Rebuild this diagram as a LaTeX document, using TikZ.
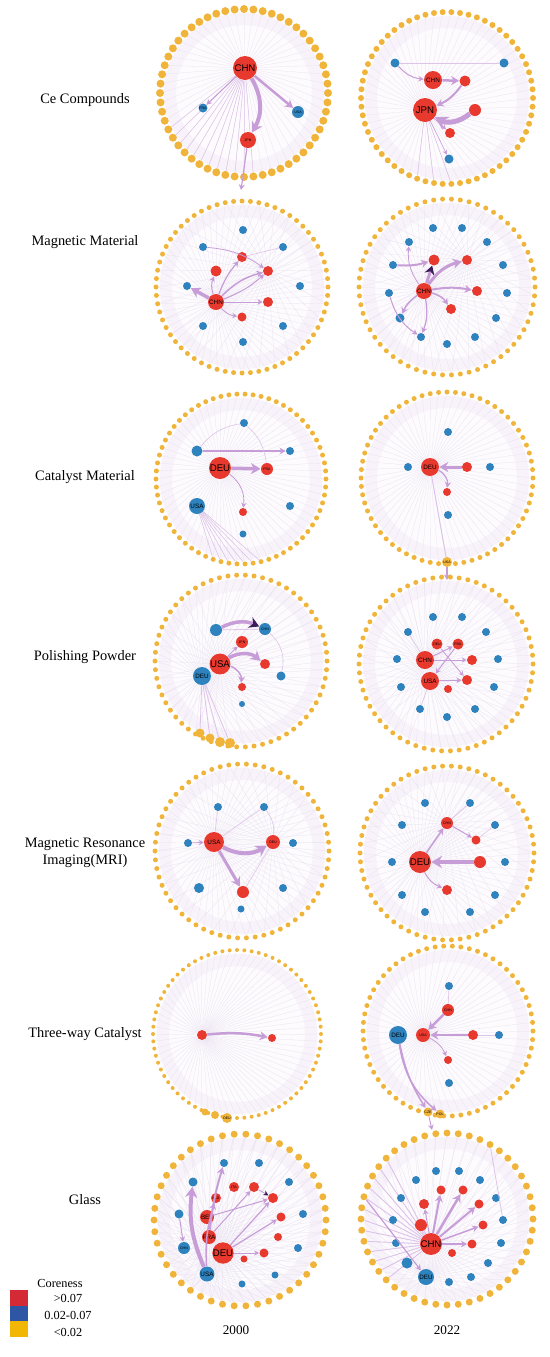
\documentclass[tikz,border=0pt]{standalone}
\usepackage{fontspec}
\setmainfont{Liberation Serif}
\setsansfont{Liberation Sans}
\usetikzlibrary{calc, arrows.meta, backgrounds}

\definecolor{corered}{HTML}{E8392F}
\definecolor{coreblue}{HTML}{2E82BE}
\definecolor{coreyel}{HTML}{F0B43A}
\definecolor{keyred}{HTML}{D42A35}
\definecolor{keyblue}{HTML}{2F55A5}
\definecolor{keyyel}{HTML}{F2B705}
\definecolor{flowpurple}{HTML}{C79DD8}
\definecolor{faintpurple}{HTML}{E6DDEF}
\definecolor{darkplum}{HTML}{3B1D5A}

% ring of low-coreness countries: centre, prefix, dots, radius, dot size
\newcommand{\corering}[5]{%
  \begin{scope}[on background layer]
    \fill[haze] (#1) circle[radius={(#4-3)*0.2mm}];
    \draw[hazering] (#1) circle[radius={(#4-10)*0.2mm}];
  \end{scope}
  \foreach \k in {1,...,#3}
    \node[lo=#5] (#2\k) at ($(#1)+({\k/#3*360}:#4)$) {};
}

\begin{document}
\begin{tikzpicture}[x=0.02cm, y=-0.02cm,
  hi/.style={circle, fill=corered, inner sep=0pt, minimum size=#1*0.2mm, font=\sffamily\fontsize{2}{2}\selectfont},
  mid/.style={circle, fill=coreblue, inner sep=0pt, minimum size=#1*0.2mm, font=\sffamily\fontsize{2}{2}\selectfont},
  lo/.style={circle, fill=coreyel, inner sep=0pt, minimum size=#1*0.2mm, font=\sffamily\fontsize{2}{2}\selectfont},
  bigtag/.style={font=\sffamily\fontsize{5.5}{5.5}\selectfont},
  medtag/.style={font=\sffamily\fontsize{3.6}{3.6}\selectfont},
  flow/.style={draw=flowpurple, line width=#1*0.2mm, -{Stealth[length=2pt 1.8, width=2pt 2.2]}},
  pointed/.style={-{Stealth[length=2pt 1.8, width=2pt 2.2, color=darkplum]}},
  link/.style={draw=flowpurple!60, line width=#1*0.2mm},
  faint/.style={draw=faintpurple, line width=0.12pt},
  haze/.style={fill=white!96!flowpurple},
  hazering/.style={draw=white!88!flowpurple, line width=2.4mm},
  rowlabel/.style={font=\fontsize{8.2}{9.6}\selectfont, align=center},
  keybox/.style={minimum width=18*0.2mm, minimum height=15.6*0.2mm, inner sep=0pt},
  keytext/.style={font=\fontsize{7}{8}\selectfont},
]
\useasboundingbox (0,0) rectangle (550,1357);

% row labels
\node[rowlabel] (lbl-ce) at (85,100) {Ce Compounds};
\node[rowlabel] (lbl-mm) at (85,242) {Magnetic Material};
\node[rowlabel] (lbl-ca) at (85,477) {Catalyst Material};
\node[rowlabel] (lbl-pp) at (85,657) {Polishing Powder};
\node[rowlabel] (lbl-mr) at (85,853) {Magnetic Resonance\\Imaging(MRI)};
\node[rowlabel] (lbl-tw) at (85,1034) {Three-way Catalyst};
\node[rowlabel] (lbl-gl) at (85,1200) {Glass};

% ---- Ce Compounds, 2000
\coordinate (ceA) at (244,93);
\corering{ceA}{ceA-r}{56}{84}{8}
\node[hi=24, bigtag] (ceA-chn) at (245,68) {CHN};
\node[mid=9] (ceA-fra) at (203,108) {FRA};
\node[mid=12] (ceA-usa) at (298,112) {USA};
\node[hi=16] (ceA-jpn) at (248,140) {JPN};
\coordinate (ceA-out) at (241,190);
\begin{scope}[on background layer]
  \foreach \k in {1,...,56} \draw[faint] (ceA-chn) -- (ceA-r\k);
  \foreach \k in {13,...,24} \draw[link=0.5] (ceA-chn) -- (ceA-r\k);
\end{scope}
\draw[flow=4] (ceA-chn) to[bend left=30] (ceA-jpn);
\draw[flow=2.5] (ceA-chn) -- (ceA-usa);
\draw[flow=1] (ceA-chn) -- (ceA-fra);
\draw[flow=1.2] (ceA-jpn) -- (ceA-out);

% ---- Ce Compounds, 2022
\coordinate (ceB) at (447,98);
\corering{ceB}{ceB-r}{62}{86}{6}
\node[mid=9] (ceB-a) at (395,63) {};
\node[mid=9] (ceB-b) at (504,63) {};
\node[hi=18, medtag] (ceB-chn) at (433,80) {CHN};
\node[hi=11] (ceB-c) at (465,81) {};
\node[hi=24, bigtag] (ceB-jpn) at (425,110) {JPN};
\node[hi=12] (ceB-d) at (475,110) {};
\node[hi=10] (ceB-e) at (450,133) {};
\node[mid=9] (ceB-f) at (449,159) {};
\begin{scope}[on background layer]
  \foreach \k in {1,...,62} \draw[faint] (ceB-jpn) -- (ceB-r\k);
  \foreach \k in {15,17,19} \draw[link=0.6] (ceB-jpn) -- (ceB-r\k);
\end{scope}
\draw[flow=2.5] (ceB-chn) -- (ceB-c);
\draw[flow=2] (ceB-c) to[bend left=15] (ceB-jpn);
\draw[flow=5] (ceB-d) to[bend left=35] (ceB-jpn);
\draw[flow=1] (ceB-a) to[bend right=20] (ceB-chn);
\draw[link=0.7] (ceB-a) -- (ceB-b);
\draw[flow=0.8] (ceB-jpn) -- (ceB-e);
\draw[flow=0.6] (ceB-jpn) -- (ceB-f);

% ---- Magnetic Material, 2000
\coordinate (mmA) at (242,287);
\corering{mmA}{mmA-r}{64}{86}{5}
\node[hi=10] (mmA-a) at (242,257) {};
\node[hi=11] (mmA-b) at (216,271) {};
\node[hi=10] (mmA-c) at (268,271) {};
\node[hi=16, medtag] (mmA-chn) at (216,302) {CHN};
\node[hi=10] (mmA-d) at (268,302) {};
\node[hi=9] (mmA-e) at (242,317) {};
\node[mid=8] (mmA-f) at (243,230) {};
\node[mid=8] (mmA-g) at (203,247) {};
\node[mid=8] (mmA-h) at (283,247) {};
\node[mid=8] (mmA-i) at (187,286) {};
\node[mid=8] (mmA-j) at (300,286) {};
\node[mid=8] (mmA-k) at (203,326) {};
\node[mid=8] (mmA-l) at (283,326) {};
\node[mid=8] (mmA-m) at (243,342) {};
\begin{scope}[on background layer]
  \foreach \k in {1,...,64} \draw[faint] (mmA-chn) -- (mmA-r\k);
  \foreach \k in {2,4,...,64} \draw[faint] (mmA-c) -- (mmA-r\k);
\end{scope}
\draw[flow=3.5] (mmA-chn) -- (mmA-i);
\draw[flow=1.2] (mmA-chn) to[bend left=10] (mmA-a);
\draw[flow=1.5] (mmA-chn) to[bend left=15] (mmA-c);
\draw[flow=1] (mmA-chn) to[bend right=10] (mmA-c);
\draw[flow=1] (mmA-chn) -- (mmA-d);
\draw[flow=0.8] (mmA-chn) to[bend right=20] (mmA-e);
\draw[flow=1] (mmA-chn) to[bend left=20] (mmA-b);
\draw[flow=0.8] (mmA-g) to[bend left=15] (mmA-c);
\draw[link=0.6] (mmA-a) -- (mmA-h);

% ---- Magnetic Material, 2022
\coordinate (mmB) at (447,287);
\corering{mmB}{mmB-r}{62}{88}{5}
\node[hi=16, medtag] (mmB-chn) at (424,291) {CHN};
\node[hi=11] (mmB-a) at (434,260) {};
\node[hi=10] (mmB-b) at (467,260) {};
\node[hi=10] (mmB-c) at (477,291) {};
\node[hi=10] (mmB-d) at (451,309) {};
\node[mid=8] (mmB-e) at (433,228) {};
\node[mid=8] (mmB-f) at (462,228) {};
\node[mid=8] (mmB-g) at (409,242) {};
\node[mid=8] (mmB-h) at (487,242) {};
\node[mid=8] (mmB-i) at (393,265) {};
\node[mid=8] (mmB-j) at (503,265) {};
\node[mid=8] (mmB-k) at (389,293) {};
\node[mid=8] (mmB-l) at (507,293) {};
\node[mid=9] (mmB-m) at (400,318) {};
\node[mid=8] (mmB-n) at (496,318) {};
\node[mid=8] (mmB-o) at (421,337) {};
\node[mid=8] (mmB-p) at (475,337) {};
\node[mid=8] (mmB-q) at (447,344) {};
\begin{scope}[on background layer]
  \foreach \k in {1,...,62} \draw[faint] (mmB-chn) -- (mmB-r\k);
  \foreach \k in {1,3,...,62} \draw[faint] (mmB-b) -- (mmB-r\k);
\end{scope}
\draw[flow=3, pointed] (mmB-chn) -- (mmB-a);
\draw[flow=3] (mmB-chn) to[bend left=20] (mmB-b);
\draw[flow=2] (mmB-chn) to[bend left=10] (mmB-c);
\draw[flow=1.5] (mmB-chn) to[bend left=20] (mmB-d);
\draw[flow=2] (mmB-i) to[bend right=10] (mmB-a);
\draw[flow=1.5] (mmB-chn) to[bend right=15] (mmB-m);
\draw[flow=1.2] (mmB-chn) to[bend left=15] (mmB-o);
\draw[flow=1] (mmB-k) to[bend right=20] (mmB-o);
\draw[flow=0.8] (mmB-chn) to[bend left=20] (mmB-g);

% ---- Catalyst Material, 2000
\coordinate (caA) at (241,479);
\corering{caA}{caA-r}{66}{85}{5}
\node[mid=8] (caA-a) at (244,423) {};
\node[mid=11] (caA-b) at (197,451) {};
\node[mid=8] (caA-c) at (290,451) {};
\node[hi=22, bigtag] (caA-deu) at (220,468) {DEU};
\node[hi=12] (caA-fra) at (267,469) {FRA};
\node[mid=16, medtag] (caA-usa) at (197,506) {USA};
\node[hi=8] (caA-d) at (243,512) {};
\node[mid=8] (caA-e) at (290,506) {};
\node[mid=7] (caA-f) at (243,534) {};
\begin{scope}[on background layer]
  \foreach \k in {1,...,66} \draw[faint] (caA-deu) -- (caA-r\k);
  \foreach \k in {14,...,20} \draw[link=0.6] (caA-usa) -- (caA-r\k);
\end{scope}
\draw[flow=3.5] (caA-deu) -- (caA-fra);
\draw[flow=1.5] (caA-b) -- (caA-c);
\draw[flow=0.8] (caA-deu) to[bend left=30] (caA-d);
\draw[link=0.6] (caA-a) to[bend right=20] (caA-b);
\draw[link=0.6] (caA-a) to[bend left=20] (caA-fra);

% ---- Catalyst Material, 2022
\coordinate (caB) at (447,478);
\corering{caB}{caB-r}{64}{86}{5}
\node[mid=8] (caB-a) at (448,432) {};
\node[mid=8] (caB-b) at (408,467) {};
\node[hi=18, medtag] (caB-deu) at (430,467) {DEU};
\node[hi=10] (caB-c) at (467,467) {};
\node[mid=8] (caB-d) at (490,467) {};
\node[hi=8] (caB-e) at (447,492) {};
\node[mid=8] (caB-f) at (448,515) {};
\node[lo=10] (caB-usa) at (447,562) {USA};
\coordinate (caB-out) at (447,580);
\begin{scope}[on background layer]
  \foreach \k in {1,...,64} \draw[faint] (caB-deu) -- (caB-r\k);
\end{scope}
\draw[flow=3] (caB-c) -- (caB-deu);
\draw[flow=1.2] (caB-deu) to[bend left=35] (caB-e);
\draw[link=1] (caB-deu) -- (caB-usa);
\draw[flow=1.2] (caB-usa) -- (caB-out);

% ---- Polishing Powder, 2000
\coordinate (ppA) at (241,661);
\corering{ppA}{ppA-r}{62}{86}{5}
\node[mid=12] (ppA-nld) at (216,630) {};
\node[mid=12] (ppA-chn) at (265,629) {CHN};
\node[hi=12] (ppA-jpn) at (242,642) {JPN};
\node[hi=18, bigtag] (ppA-usa) at (220,664) {USA};
\node[hi=10] (ppA-a) at (265,664) {};
\node[mid=18, medtag] (ppA-deu) at (202,676) {DEU};
\node[mid=9] (ppA-b) at (281,676) {};
\node[hi=8] (ppA-c) at (242,687) {};
\node[mid=6] (ppA-d) at (242,704) {};
\node[lo=9] (ppA-e) at (200,733) {};
\node[lo=9] (ppA-f) at (210,738) {};
\node[lo=10] (ppA-g) at (220,742) {};
\node[lo=10] (ppA-h) at (230,743) {};
\begin{scope}[on background layer]
  \foreach \k in {1,...,62} \draw[faint] (ppA-deu) -- (ppA-r\k);
  \foreach \k in {1,3,...,62} \draw[faint] (ppA-usa) -- (ppA-r\k);
\end{scope}
\draw[flow=3.5, pointed] (ppA-nld) to[bend left=25] (ppA-chn);
\draw[link=0.8] (ppA-chn) -- (ppA-nld);
\draw[flow=3.5] (ppA-usa) to[bend left=35] (ppA-a);
\draw[flow=1.5] (ppA-usa) to[bend left=35] (ppA-c);
\draw[flow=0.8] (ppA-usa) -- (ppA-jpn);
\draw[link=0.6] (ppA-chn) to[bend left=30] (ppA-b);
\foreach \n in {e,f,g,h} \draw[link=0.8] (ppA-deu) -- (ppA-\n);

% ---- Polishing Powder, 2022
\coordinate (ppB) at (446,664);
\corering{ppB}{ppB-r}{62}{87}{5}
\node[hi=11] (ppB-deu) at (437,644) {DEU};
\node[hi=11] (ppB-fra) at (458,644) {FRA};
\node[hi=18, medtag] (ppB-chn) at (425,660) {CHN};
\node[hi=10] (ppB-a) at (472,660) {};
\node[hi=18, medtag] (ppB-usa) at (430,681) {USA};
\node[hi=10] (ppB-b) at (467,680) {};
\node[hi=8] (ppB-c) at (448,689) {};
\node[mid=8] (ppB-d) at (433,617) {};
\node[mid=8] (ppB-e) at (462,617) {};
\node[mid=8] (ppB-f) at (408,632) {};
\node[mid=8] (ppB-g) at (486,632) {};
\node[mid=8] (ppB-h) at (397,659) {};
\node[mid=8] (ppB-i) at (498,659) {};
\node[mid=8] (ppB-j) at (401,687) {};
\node[mid=8] (ppB-k) at (494,687) {};
\node[mid=8] (ppB-l) at (420,709) {};
\node[mid=8] (ppB-m) at (475,709) {};
\node[mid=8] (ppB-n) at (447,717) {};
\begin{scope}[on background layer]
  \foreach \k in {1,...,62} \draw[faint] (ppB-chn) -- (ppB-r\k);
  \foreach \k in {2,4,...,62} \draw[faint] (ppB-usa) -- (ppB-r\k);
\end{scope}
\draw[flow=1] (ppB-chn) -- (ppB-fra);
\draw[flow=1] (ppB-usa) -- (ppB-b);
\draw[flow=1] (ppB-fra) -- (ppB-usa);
\draw[flow=0.8] (ppB-chn) -- (ppB-a);
\draw[flow=0.8] (ppB-deu) -- (ppB-b);
\draw[link=0.6] (ppB-chn) -- (ppB-f);
\draw[link=0.6] (ppB-usa) -- (ppB-l);

% ---- MRI, 2000
\coordinate (mrA) at (242,851);
\corering{mrA}{mrA-r}{62}{87}{5}
\node[mid=8] (mrA-a) at (218,807) {};
\node[mid=8] (mrA-b) at (264,807) {};
\node[mid=8] (mrA-c) at (188,843) {};
\node[hi=20, medtag] (mrA-usa) at (214,842) {USA};
\node[hi=14] (mrA-deu) at (273,842) {DEU};
\node[mid=8] (mrA-d) at (293,843) {};
\node[mid=10] (mrA-e) at (199,888) {};
\node[hi=12] (mrA-f) at (243,892) {};
\node[mid=8] (mrA-g) at (283,888) {};
\node[mid=7] (mrA-h) at (241,909) {};
\begin{scope}[on background layer]
  \foreach \k in {1,...,62} \draw[faint] (mrA-usa) -- (mrA-r\k);
  \foreach \k in {1,3,...,62} \draw[faint] (mrA-deu) -- (mrA-r\k);
\end{scope}
\draw[flow=4] (mrA-usa) to[bend right=30] (mrA-deu);
\draw[flow=3] (mrA-usa) -- (mrA-f);
\draw[flow=0.8] (mrA-c) -- (mrA-usa);
\draw[link=0.6] (mrA-usa) -- (mrA-b);
\draw[link=0.6] (mrA-a) -- (mrA-usa);
\draw[link=0.6] (mrA-deu) -- (mrA-f);
\draw[link=0.6] (mrA-b) to[bend left=20] (mrA-deu);

% ---- MRI, 2022
\coordinate (mrB) at (447,853);
\corering{mrB}{mrB-r}{62}{87}{5}
\node[hi=12] (mrB-chn) at (447,823) {CHN};
\node[hi=9] (mrB-a) at (476,840) {};
\node[hi=22, bigtag] (mrB-deu) at (420,862) {DEU};
\node[hi=12] (mrB-b) at (480,862) {};
\node[hi=10] (mrB-c) at (447,890) {};
\node[mid=8] (mrB-d) at (425,803) {};
\node[mid=8] (mrB-e) at (470,803) {};
\node[mid=8] (mrB-f) at (402,825) {};
\node[mid=8] (mrB-g) at (495,825) {};
\node[mid=8] (mrB-h) at (392,862) {};
\node[mid=8] (mrB-i) at (505,862) {};
\node[mid=8] (mrB-j) at (402,895) {};
\node[mid=8] (mrB-k) at (495,895) {};
\node[mid=8] (mrB-l) at (425,912) {};
\node[mid=8] (mrB-m) at (470,912) {};
\begin{scope}[on background layer]
  \foreach \k in {1,...,62} \draw[faint] (mrB-deu) -- (mrB-r\k);
  \foreach \k in {2,4,...,62} \draw[faint] (mrB-chn) -- (mrB-r\k);
\end{scope}
\draw[flow=4] (mrB-b) -- (mrB-deu);
\draw[flow=1.5] (mrB-deu) -- (mrB-chn);
\draw[flow=1] (mrB-chn) -- (mrB-a);
\draw[flow=1] (mrB-deu) to[bend right=20] (mrB-c);
\draw[link=0.8] (mrB-chn) -- (mrB-e);
\draw[link=0.6] (mrB-a) -- (mrB-g);

% ---- Three-way Catalyst, 2000
\coordinate (twA) at (237,1034);
\corering{twA}{twA-r}{72}{84}{4}
\node[hi=10] (twA-a) at (202,1035) {};
\node[hi=8] (twA-b) at (272,1038) {};
\node[lo=7] (twA-c) at (205,1112) {};
\node[lo=8] (twA-d) at (215,1115) {};
\node[lo=10] (twA-deu) at (227,1118) {DEU};
\begin{scope}[on background layer]
  \foreach \k in {1,...,72} \draw[faint] (twA-a) -- (twA-r\k);
\end{scope}
\draw[flow=2.5] (twA-a) to[bend left=8] (twA-b);

% ---- Three-way Catalyst, 2022
\coordinate (twB) at (448,1031);
\corering{twB}{twB-r}{62}{85}{5}
\node[mid=8] (twB-a) at (449,986) {};
\node[hi=12] (twB-chn) at (448,1010) {CHN};
\node[mid=18, medtag] (twB-deu) at (398,1035) {DEU};
\node[hi=14] (twB-usa) at (423,1035) {USA};
\node[hi=10] (twB-b) at (473,1035) {};
\node[mid=8] (twB-c) at (499,1035) {};
\node[hi=8] (twB-d) at (448,1060) {};
\node[mid=8] (twB-e) at (449,1083) {};
\node[lo=9] (twB-cze) at (428,1112) {CZE};
\node[lo=9] (twB-pol) at (440,1114) {POL};
\coordinate (twB-out) at (432,1130);
\begin{scope}[on background layer]
  \foreach \k in {1,...,62} \draw[faint] (twB-usa) -- (twB-r\k);
\end{scope}
\draw[flow=2.5] (twB-chn) -- (twB-usa);
\draw[flow=2.5] (twB-b) -- (twB-usa);
\draw[flow=0.8] (twB-usa) to[bend left=20] (twB-d);
\draw[flow=1.5] (twB-deu) to[bend right=10] (twB-cze);
\draw[flow=1.5] (twB-deu) to[bend right=20] (twB-pol);
\draw[link=0.6] (twB-c) -- (twB-b);
\draw[link=0.6] (twB-a) -- (twB-chn);
\draw[flow=1] (twB-cze) -- (twB-out);

% ---- Glass, 2000
\coordinate (glA) at (240,1220);
\corering{glA}{glA-ring}{46}{86}{7}
\node[mid=8] (glA-a) at (224,1163) {};
\node[mid=8] (glA-b) at (259,1163) {};
\node[mid=9] (glA-c) at (193,1182) {};
\node[mid=8] (glA-d) at (289,1182) {};
\node[mid=9] (glA-e) at (179,1214) {};
\node[mid=8] (glA-f) at (303,1214) {};
\node[mid=12] (glA-chn) at (184,1248) {CHN};
\node[mid=8] (glA-g) at (298,1248) {};
\node[mid=15, medtag] (glA-usa) at (207,1274) {USA};
\node[mid=7] (glA-h) at (275,1275) {};
\node[mid=7] (glA-i) at (242,1284) {};
\node[hi=10] (glA-ita) at (234,1187) {ITA};
\node[hi=10] (glA-j) at (254,1187) {};
\node[hi=10] (glA-nld) at (216,1198) {NLD};
\node[hi=10] (glA-k) at (273,1198) {};
\node[hi=14, medtag] (glA-bel) at (207,1217) {BEL};
\node[hi=9] (glA-l) at (281,1217) {};
\node[hi=14, medtag] (glA-fra) at (209,1237) {FRA};
\node[hi=8] (glA-m) at (278,1237) {};
\node[hi=18, bigtag] (glA-deu) at (223,1253) {DEU};
\node[hi=9] (glA-n) at (264,1253) {};
\node[hi=7] (glA-o) at (244,1259) {};
\begin{scope}[on background layer]
  \foreach \k in {1,...,46} \draw[faint] (glA-deu) -- (glA-ring\k);
  \foreach \k in {1,...,46} \draw[faint] (glA-usa) -- (glA-ring\k);
  \foreach \k in {1,...,46} \draw[faint] (glA-fra) -- (glA-ring\k);
\end{scope}
\draw[flow=4] (glA-usa) to[bend left=15] (glA-c);
\draw[flow=2] (glA-fra) to[bend left=5] (glA-a);
\draw[flow=1.5] (glA-usa) to[bend left=10] (glA-nld);
\draw[flow=1.2] (glA-deu) -- (glA-k);
\draw[flow=1.2] (glA-deu) -- (glA-l);
\draw[flow=1] (glA-fra) -- (glA-j);
\draw[flow=1] (glA-bel) -- (glA-k);
\draw[flow=1] (glA-e) -- (glA-chn);
\draw[flow=0.8] (glA-deu) -- (glA-n);
\draw[flow=0.8, pointed] (glA-j) -- (glA-k);

% ---- Glass, 2022
\coordinate (glB) at (447,1219);
\corering{glB}{glB-ring}{48}{86}{7}
\node[mid=8] (glB-a) at (436,1171) {};
\node[mid=8] (glB-b) at (459,1171) {};
\node[mid=8] (glB-c) at (416,1180) {};
\node[mid=8] (glB-d) at (480,1180) {};
\node[mid=8] (glB-e) at (401,1198) {};
\node[mid=8] (glB-f) at (496,1198) {};
\node[mid=8] (glB-g) at (393,1220) {};
\node[mid=8] (glB-h) at (503,1220) {};
\node[mid=8] (glB-i) at (396,1243) {};
\node[mid=8] (glB-j) at (501,1243) {};
\node[mid=11] (glB-k) at (407,1263) {};
\node[mid=8] (glB-l) at (488,1263) {};
\node[mid=16, medtag] (glB-deu) at (426,1277) {DEU};
\node[mid=8] (glB-m) at (471,1277) {};
\node[mid=8] (glB-n) at (449,1282) {};
\node[hi=9] (glB-o) at (441,1190) {};
\node[hi=9] (glB-p) at (463,1190) {};
\node[hi=10] (glB-q) at (424,1204) {};
\node[hi=9] (glB-s) at (479,1204) {};
\node[hi=12] (glB-t) at (421,1225) {};
\node[hi=9] (glB-u) at (483,1225) {};
\node[hi=20, bigtag] (glB-chn) at (431,1244) {CHN};
\node[hi=9] (glB-v) at (472,1244) {};
\node[hi=8] (glB-w) at (452,1253) {};
\begin{scope}[on background layer]
  \foreach \k in {1,...,48} \draw[faint] (glB-chn) -- (glB-ring\k);
  \foreach \k in {1,...,48} \draw[faint] (glB-deu) -- (glB-ring\k);
  \foreach \k in {18,...,30} \draw[link=0.9] (glB-ring\k) -- (glB-chn);
\end{scope}
\draw[flow=2.5] (glB-chn) -- (glB-p);
\draw[flow=2] (glB-chn) -- (glB-o);
\draw[flow=2] (glB-chn) -- (glB-s);
\draw[flow=1.5] (glB-chn) -- (glB-u);
\draw[flow=1.5] (glB-chn) -- (glB-v);
\draw[flow=1] (glB-chn) -- (glB-q);
\draw[flow=1.2] (glB-ring26) -- (glB-deu);
\draw[link=0.8] (glB-ring40) -- (glB-h);

% years
\node[keytext, font=\fontsize{7.5}{8}\selectfont] (yr-a) at (236,1330) {2000};
\node[keytext, font=\fontsize{7.5}{8}\selectfont] (yr-b) at (447,1330) {2022};

% legend
\node[keytext] (key-title) at (60,1283) {Coreness};
\node[keybox, fill=keyred] (key-hi) at (19,1297.8) {};
\node[keybox, fill=keyblue] (key-mid) at (19,1313.5) {};
\node[keybox, fill=keyyel] (key-lo) at (19,1329.2) {};
\node[keytext] (key-hi-t) at (68,1298) {>0.07};
\node[keytext] (key-mid-t) at (68,1315) {0.02-0.07};
\node[keytext] (key-lo-t) at (68,1332) {<0.02};
\end{tikzpicture}
\end{document}
